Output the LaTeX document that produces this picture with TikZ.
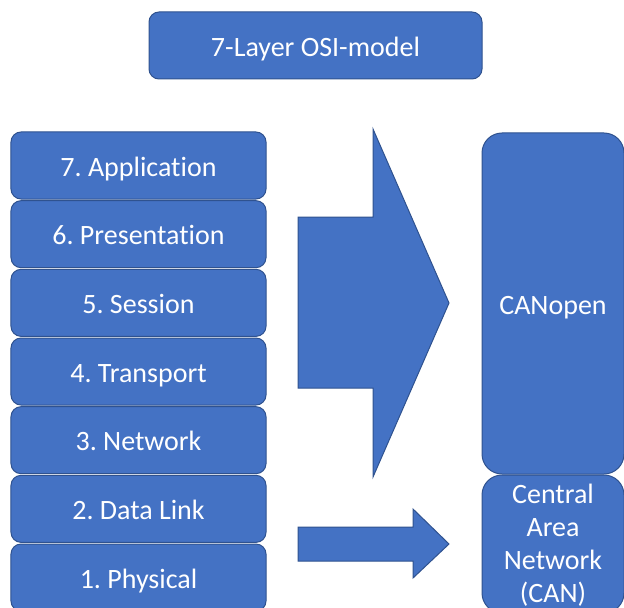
\documentclass[tikz,border=0pt]{standalone}
\usepackage{fontspec}
\setmainfont{Carlito}[Ligatures=NoCommon]
\begin{document}
\frenchspacing
\begin{tikzpicture}[x=1bp,y=-1bp,
  blk/.style={draw=boxline,fill=boxfill,line width=1bp,rounded corners=10bp,text=white,
    font=\fontsize{28bp}{33bp}\selectfont,inner sep=0pt,outer sep=0pt},
  oneline/.style={text height=28.6bp,text depth=7bp},
  barrow/.style={draw=boxline,fill=boxfill,line width=1bp,line join=miter}]
\definecolor{boxfill}{HTML}{4472C4}
\definecolor{boxline}{HTML}{2F528F}
\useasboundingbox (0,0) rectangle (624,608);
\clip (0,0) rectangle (624,608);
% title
\node[blk,oneline,minimum width=333bp,minimum height=67bp] (title) at (315.5,45.5) {7-Layer OSI-model};
% layer stack
\foreach \i/\t [count=\k from 0] in {7/7. Application,6/6. Presentation,5/5. Session,4/4. Transport,3/3. Network,2/2. Data Link,1/1. Physical}{
  \node[blk,oneline,minimum width=255bp,minimum height=67bp] (L\i) at (138.5,{165.5+68.67*\k}) {\t};
}
% right boxes
\node[blk,oneline,rounded corners=20bp,minimum width=142bp,minimum height=341bp] (canopen) at (553,303.5) {CANopen};
\node[blk,rounded corners=20bp,minimum width=142bp,minimum height=138bp] (can) at (553,544) {};
\node[text=white,font=\fontsize{28bp}{33bp}\selectfont,align=center,inner sep=0pt] (cantext) at ([yshift=-1bp]can.center) {Central\\Area\\Network\\(CAN)};
% block arrows
\draw[barrow] (298,217) -- (373,217) -- (373,129) -- (449,303) -- (373,477) -- (373,388) -- (298,388) -- cycle;
\draw[barrow] (298,527) -- (413,527) -- (413,509) -- (449,544) -- (413,578) -- (413,561) -- (298,561) -- cycle;
\end{tikzpicture}
\end{document}
